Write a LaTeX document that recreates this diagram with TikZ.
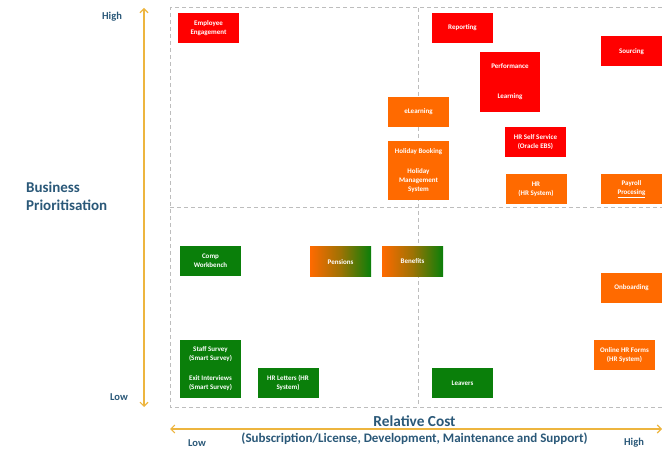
\documentclass[tikz,border=0pt]{standalone}
\usepackage{fontspec}
\setmainfont{Carlito}
\usetikzlibrary{arrows.meta}
\definecolor{bred}{HTML}{FF0000}
\definecolor{borange}{HTML}{FF6A00}
\definecolor{bgreen}{HTML}{0A7F0A}
\definecolor{axisgold}{HTML}{EDB53F}
\definecolor{axistext}{HTML}{2A5878}
\definecolor{gridgray}{HTML}{BDBDBD}
\tikzset{
  item/.style={rectangle, inner sep=0pt, minimum width=61pt, minimum height=30pt,
    text=white, align=center, font=\bfseries\fontsize{7}{9}\selectfont},
  itemred/.style={item, fill=bred},
  itemorange/.style={item, fill=borange},
  itemgreen/.style={item, fill=bgreen},
  itemmixed/.style={item, left color=borange, right color=bgreen, middle color=borange!60!bgreen},
  quadline/.style={gridgray, line width=1pt, dash pattern=on 4pt off 3pt},
  axisarrow/.style={axisgold, line width=1.1pt,
    {Straight Barb[length=4pt,width=8pt]}-{Straight Barb[length=4pt,width=8pt]}},
  axislabel/.style={text=axistext, font=\bfseries\fontsize{10.5}{12}\selectfont, inner sep=0pt},
  axistitle/.style={text=axistext, font=\bfseries\fontsize{15}{18}\selectfont, inner sep=0pt, align=left},
}
\begin{document}
\begin{tikzpicture}[x=1pt, y=-1pt]
\useasboundingbox (0,0) rectangle (662,449);

% quadrant grid
\coordinate (gTL) at (170,8);
\coordinate (gTR) at (662,8);
\coordinate (gBL) at (170,407);
\coordinate (gBR) at (662,407);
\coordinate (gML) at (170,207.5);
\coordinate (gMR) at (662,207.5);
\coordinate (gMT) at (418,8);
\coordinate (gMB) at (418,407);
\draw[quadline] (gTR) -- (gTL) -- (gBL) -- (gBR);
\draw[quadline] (gML) -- (gMR);
\draw[quadline] (gMT) -- (gMB);

% axes
\coordinate (yTop) at (144,8);
\coordinate (yBot) at (144,407);
\coordinate (xLeft) at (170,429);
\coordinate (xRight) at (662,429);
\draw[axisarrow] (yTop) -- (yBot);
\draw[axisarrow] (xLeft) -- (xRight);

% axis texts
\node[axislabel] (yHigh) at (112,17) {High};
\node[axislabel] (yLow) at (119,397) {Low};
\node[axistitle, anchor=west] (yTitle) at (26,196) {Business\\Prioritisation};
\node[axistitle, font=\bfseries\fontsize{15.3}{18}\selectfont] (xTitle) at (414.5,421) {Relative Cost};
\node[axislabel, font=\bfseries\fontsize{13}{15}\selectfont] (xSub) at (414.5,439) {(Subscription/License, Development, Maintenance and Support)};
\node[axislabel] (xLow) at (197,443) {Low};
\node[axislabel] (xHigh) at (634,443) {High};

% high priority items
\node[itemred] (emp) at (208.5,28.5) {Employee\\Engagement};
\node[itemred] (rep) at (462.5,28) {Reporting};
\node[itemred] (src) at (631.5,51.5) {Sourcing};
\node[itemred, minimum height=60pt, minimum width=60pt] (perf) at (510,82) {Performance\\[21pt]Learning};
\node[itemorange] (elearn) at (418.5,112) {eLearning};
\node[itemorange, minimum height=59pt] (hol) at (418.5,170.5) {Holiday Booking\\[11pt]Holiday\\Management\\System};
\node[itemred] (hrss) at (535.5,142) {HR Self Service\\(Oracle EBS)};
\node[itemorange] (hr) at (536,189) {HR\\(HR System)};
\node[itemorange] (pay) at (631.5,189) {Payroll\\\underline{Procesing}};

% low priority items
\node[itemgreen] (comp) at (210.5,261) {Comp\\Workbench};
\node[itemmixed] (pens) at (340.5,262) {Pensions};
\node[itemmixed] (ben) at (412.5,261.5) {Benefits};
\node[itemorange] (onb) at (631.5,288) {Onboarding};
\node[itemorange] (ohr) at (624.5,355) {Online HR Forms\\(HR System)};
\node[itemgreen, minimum height=58pt] (staff) at (210.5,369) {Staff Survey\\(Smart Survey)\\[11pt]Exit Interviews\\(Smart Survey)};
\node[itemgreen] (hrl) at (288,383) {HR Letters (HR\\System)};
\node[itemgreen] (leav) at (462.5,383) {Leavers};
\end{tikzpicture}
\end{document}
